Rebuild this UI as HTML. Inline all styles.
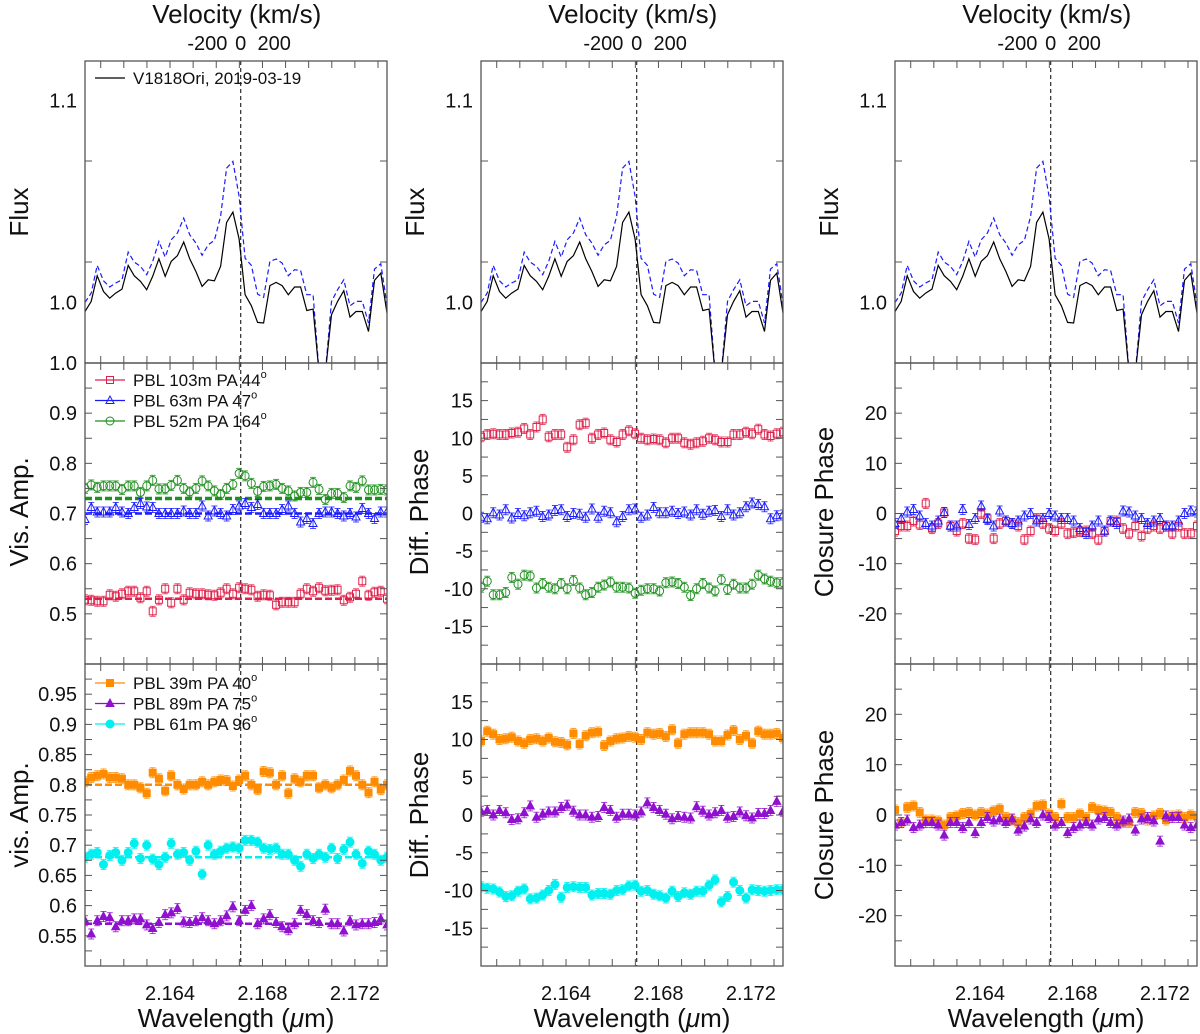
<!DOCTYPE html>
<html><head><meta charset="utf-8">
<style>
html,body{margin:0;padding:0;background:#fff;}
svg{display:block;font-family:"Liberation Sans",Arial,sans-serif;}
</style></head>
<body>
<svg id="fig" width="1200" height="1034" viewBox="0 0 1200 1034" xmlns="http://www.w3.org/2000/svg"></svg>
<script>
// ---- data ----
const wavelengths = [2.16032,2.16059,2.16085,2.16112,2.16139,2.16165,2.16192,2.16219,2.16245,2.16272,2.16299,2.16325,2.16352,2.16379,2.16405,2.16432,2.16459,2.16485,2.16512,2.16539,2.16565,2.16592,2.16619,2.16645,2.16672,2.16699,2.16725,2.16752,2.16779,2.16805,2.16832,2.16859,2.16885,2.16912,2.16939,2.16965,2.16992,2.17019,2.17045,2.17072,2.17099,2.17125,2.17152,2.17179,2.17205,2.17232,2.17259,2.17285,2.17312,2.17339];
const fluxObs = [0.9955,1.0005,1.0132,1.0054,1.0021,1.0046,1.0066,1.0183,1.0132,1.0104,1.0063,1.0129,1.0216,1.0129,1.0203,1.0231,1.0299,1.0216,1.0153,1.0079,1.0112,1.0107,1.0178,1.0396,1.0447,1.0314,1.0038,0.9983,0.9901,0.9898,1.0083,1.0099,1.0083,1.0038,1.0076,1.0076,0.9960,0.9967,0.965,0.965,0.9939,1.0005,1.0058,0.9927,0.9955,0.9955,0.9856,1.0109,1.0145,0.9947];
const fluxCorr = [1.0000,1.0046,1.0183,1.0107,1.0076,1.0096,1.0112,1.0249,1.0200,1.0178,1.0137,1.0203,1.0302,1.0224,1.0310,1.0343,1.0417,1.0335,1.0294,1.0233,1.0285,1.0307,1.0426,1.0665,1.0698,1.0525,1.0219,1.0183,1.0041,1.0025,1.0203,1.0215,1.0195,1.0132,1.0162,1.0158,1.0038,1.0038,0.965,0.965,1.0005,1.0063,1.0112,0.9983,1.0005,1.0005,0.9898,1.0165,1.0191,0.9988];
const visA_red = [0.528,0.527,0.525,0.525,0.538,0.535,0.54,0.545,0.545,0.532,0.545,0.505,0.528,0.55,0.522,0.55,0.528,0.542,0.54,0.54,0.538,0.537,0.542,0.55,0.54,0.552,0.55,0.548,0.535,0.538,0.537,0.518,0.523,0.523,0.523,0.54,0.55,0.545,0.552,0.546,0.547,0.548,0.527,0.533,0.54,0.565,0.537,0.543,0.545,0.53];
const visA_blue = [0.688,0.712,0.703,0.703,0.703,0.712,0.703,0.70,0.712,0.72,0.713,0.712,0.70,0.70,0.70,0.70,0.705,0.70,0.70,0.715,0.695,0.705,0.70,0.695,0.708,0.715,0.72,0.712,0.718,0.70,0.70,0.70,0.708,0.715,0.70,0.683,0.69,0.68,0.70,0.703,0.703,0.70,0.695,0.70,0.693,0.71,0.70,0.69,0.703,0.703];
const visA_green = [0.75,0.757,0.752,0.755,0.755,0.755,0.748,0.755,0.755,0.742,0.755,0.766,0.749,0.749,0.756,0.766,0.75,0.743,0.75,0.765,0.755,0.745,0.738,0.75,0.758,0.78,0.775,0.76,0.744,0.754,0.755,0.758,0.75,0.745,0.735,0.742,0.742,0.762,0.748,0.728,0.74,0.74,0.732,0.755,0.752,0.765,0.747,0.747,0.748,0.747];
const visB_orange = [0.805,0.812,0.815,0.818,0.812,0.812,0.81,0.80,0.80,0.795,0.786,0.82,0.81,0.79,0.815,0.80,0.793,0.80,0.80,0.805,0.80,0.805,0.808,0.807,0.798,0.808,0.815,0.80,0.792,0.822,0.82,0.80,0.815,0.786,0.81,0.805,0.815,0.815,0.795,0.80,0.795,0.80,0.808,0.823,0.815,0.80,0.787,0.805,0.792,0.80];
const visB_cyan = [0.68,0.685,0.688,0.668,0.683,0.688,0.675,0.688,0.703,0.678,0.70,0.677,0.668,0.68,0.703,0.685,0.688,0.675,0.69,0.652,0.70,0.685,0.69,0.695,0.697,0.695,0.708,0.708,0.705,0.695,0.693,0.695,0.685,0.685,0.675,0.665,0.685,0.678,0.685,0.68,0.695,0.678,0.693,0.705,0.685,0.67,0.69,0.685,0.675,0.68];
const visB_purple = [0.575,0.553,0.575,0.582,0.58,0.565,0.575,0.575,0.578,0.578,0.568,0.562,0.572,0.585,0.588,0.595,0.573,0.572,0.575,0.58,0.575,0.57,0.575,0.583,0.598,0.575,0.592,0.60,0.57,0.578,0.585,0.572,0.565,0.56,0.57,0.592,0.585,0.575,0.572,0.594,0.57,0.57,0.558,0.575,0.568,0.57,0.57,0.572,0.578,0.568];
const dpA_red = [10.2,10.5,10.6,10.5,10.5,10.7,10.8,11.3,10.5,11.5,12.5,10.2,10.5,10.5,8.8,9.8,11.8,12.0,10.0,10.5,10.7,9.8,9.5,10.5,11.0,10.6,10.0,9.8,9.9,9.8,9.4,10.0,10.0,9.4,9.2,9.4,9.6,10.0,9.8,9.5,9.5,10.5,10.5,10.8,10.6,11.2,10.5,10.3,10.6,10.8];
const dpA_blue = [-0.5,-0.7,0.1,-0.2,0.5,-0.6,0.0,-0.3,0.1,0.3,-0.4,-0.2,0.4,0.5,-0.4,0.0,-0.1,-0.5,0.6,-0.5,0.3,0.1,-1.1,-0.4,0.5,0.6,-0.5,-0.2,0.8,0.1,0.1,0.3,0.0,0.2,-0.2,0.5,-0.1,0.3,0.4,-0.4,0.5,-0.2,0.1,0.9,1.4,1.2,0.9,-0.7,-0.3,-0.2];
const dpA_green = [-9.8,-9.0,-10.8,-10.8,-10.5,-8.5,-9.4,-8.2,-8.3,-9.9,-9.3,-9.8,-10.0,-9.3,-10.0,-8.9,-9.9,-10.8,-10.5,-9.8,-9.5,-9.1,-9.8,-9.8,-9.9,-10.6,-10.2,-10.0,-10.0,-10.3,-9.2,-9.1,-9.3,-9.8,-10.9,-10.0,-9.3,-9.9,-10.3,-8.8,-10.1,-9.4,-9.9,-9.9,-9.4,-8.2,-8.7,-9.0,-9.2,-9.2];
const dpB_orange = [9.8,11.1,10.7,10.0,10.1,10.3,9.8,9.5,10.0,10.1,9.8,10.2,9.7,9.6,9.3,10.8,9.4,10.5,10.9,11.0,9.2,9.8,10.1,10.2,10.4,10.3,10.0,10.9,10.7,10.8,10.4,11.3,9.5,10.7,10.9,10.9,10.9,10.7,9.8,9.8,10.6,11.2,10.0,10.5,9.5,11.1,10.7,10.7,10.8,10.2];
const dpB_purple = [0.5,0.6,0.0,0.6,0.3,-0.6,-0.5,0.3,1.2,-0.3,0.1,0.4,0.4,1.0,1.3,0.5,0.0,0.0,-0.3,-0.2,1.0,0.6,-0.3,0.1,0.1,0.0,0.4,1.6,1.0,0.6,0.1,-0.5,-0.2,-0.3,-0.4,1.1,0.5,0.0,0.3,0.6,-0.3,-0.2,0.4,-0.1,-0.4,0.2,0.2,0.6,1.8,0.5];
const dpB_cyan = [-9.5,-9.7,-9.8,-10.2,-10.8,-10.7,-10.1,-9.8,-11.1,-11.0,-10.6,-10.0,-9.2,-10.9,-9.6,-9.5,-9.6,-9.6,-10.6,-10.4,-10.4,-10.5,-10.0,-9.9,-9.4,-9.3,-10.1,-10.0,-10.5,-10.7,-11.0,-10.1,-10.8,-10.3,-10.5,-10.1,-10.1,-9.3,-8.6,-11.5,-10.8,-8.9,-10.0,-11.0,-9.9,-10.0,-10.1,-10.0,-9.9,-9.9];
const cpA_red = [-3.5,-2.5,-2.5,-1.5,-2.2,2.0,-3.0,-2.0,0.2,-2.5,-3.5,-2.0,-5.0,-5.2,0.0,-1.0,-5.0,-2.0,-1.5,-2.0,-2.5,-5.2,-3.5,-1.0,-2.0,-3.0,-3.5,-2.0,-4.0,-3.8,-3.6,-3.5,-4.0,-5.2,-3.5,-1.5,-1.5,-3.0,-4.0,-2.5,-4.5,-3.0,-2.5,-3.0,-2.5,-4.0,-2.5,-4.0,-4.0,-2.5];
const cpA_blue = [-2.0,-1.0,0.3,0.8,-0.5,-2.0,-2.5,-1.5,0.2,-2.5,-2.5,0.8,-2.2,-1.0,1.5,-1.2,-2.5,0.5,-1.5,-2.0,-1.5,-0.5,0.0,-1.5,-1.0,0.0,-0.5,-1.0,-1.0,-1.5,-3.0,-4.0,-2.5,-1.5,-3.5,-1.5,-2.0,0.5,0.3,-0.5,-1.0,-2.0,-1.5,-1.0,-2.5,-2.5,-1.5,0.0,0.5,0.3];
const cpB_orange = [1.0,-1.5,1.5,1.8,0.5,-1.0,-1.0,-1.2,-2.0,-0.5,-0.2,0.3,0.5,0.0,0.5,0.2,0.8,1.2,-0.5,-1.0,-1.5,-0.5,0.2,1.8,2.0,0.2,-0.5,2.2,-0.5,-0.5,0.2,-0.5,1.5,1.0,0.8,0.5,-0.5,-1.5,-1.5,0.5,0.3,-1.0,-0.2,0.3,-1.0,-0.2,0.0,-0.5,0.0,-0.3];
const cpB_purple = [-2.0,-1.5,-1.0,-2.5,-2.0,-1.5,-1.5,-2.0,-4.0,-1.5,-1.5,-2.5,-1.5,-3.5,-1.5,-0.5,-1.2,-0.8,-1.5,-0.8,-3.0,-2.2,-0.8,-1.5,0.0,-0.5,-2.0,-1.5,-3.5,-2.5,-2.0,-1.5,-2.0,-0.8,-0.5,-1.5,-2.0,-1.2,-0.8,-3.0,-0.8,-0.5,-1.2,-5.2,-0.2,-0.5,-0.5,-2.0,-2.5,-2.0];
const visA_levels = [0.53,0.70,0.73];
const visB_levels = [0.80,0.68,0.57];
const xTickLabels = [2.164,2.168,2.172];
const velTicks = [-200,0,200];
const lineCenter = 2.16706;

// ---- helpers ----
const NS = "http://www.w3.org/2000/svg";
const svg = document.getElementById('fig');
function mk(tag, attrs, parent){const e=document.createElementNS(NS,tag);for(const k in attrs)e.setAttribute(k,attrs[k]);(parent||svg).appendChild(e);return e;}
const LMIN=2.16032, LMAX=2.17339, PW=302;
const cols=[85,481,895];
const rows=[[61,363],[363,664],[664,966]];
let clipId=0;

function makePanel(x0,y0,y1,ymin,ymax,minorStep,labels,fmt,name){
  const p={x0,y0,y1,ymin,ymax};
  p.xs=l=>x0+(l-LMIN)/(LMAX-LMIN)*PW;
  p.ys=v=>y1-(v-ymin)/(ymax-ymin)*(y1-y0);
  const g=mk('g',{});
  
  
  clipId++;
  const cp=mk('clipPath',{id:'c'+clipId},g);
  mk('rect',{x:x0,y:y0,width:PW,height:y1-y0},cp);
  p.g=g;
  p.dg=mk('g',{'clip-path':'url(#c'+clipId+')'},g);
  // dashed vertical
  const vl=mk('line',{x1:p.xs(lineCenter),x2:p.xs(lineCenter),y1:y0,y2:y1,stroke:'#000','stroke-width':1,'stroke-dasharray':'4,3'},p.dg);
  
  
  // frame
  const fr=mk('rect',{x:x0,y:y0,width:PW,height:y1-y0,fill:'none',stroke:'#555','stroke-width':1.3},g);
  
  
  // x ticks
  for(let l=2.161;l<2.1734;l+=0.001){
    const x=p.xs(l);
    mk('line',{x1:x,x2:x,y1:y1,y2:y1-7,stroke:'#555','stroke-width':1},g);
    mk('line',{x1:x,x2:x,y1:y0,y2:y0+7,stroke:'#555','stroke-width':1},g);
  }
  // y ticks
  const n=Math.round((ymax-ymin)/minorStep);
  for(let i=0;i<=n;i++){
    const v=ymin+i*minorStep;const y=p.ys(v);
    if(y<y0+1||y>y1-1)continue;
    mk('line',{x1:x0,x2:x0+7,y1:y,y2:y,stroke:'#555','stroke-width':1},g);
    mk('line',{x1:x0+PW,x2:x0+PW-7,y1:y,y2:y,stroke:'#555','stroke-width':1},g);
  }
  labels.forEach(v=>{
    const t=mk('text',{x:x0-8,y:p.ys(v)+7,'text-anchor':'end','font-size':20,fill:'#111'},g);
    t.textContent=fmt(v);
    
    
  });
  return p;
}
function ylabel(x,y,txt){
  const t=mk('text',{x:x,y:y,'text-anchor':'middle','font-size':26,fill:'#111',transform:`rotate(-90 ${x} ${y})`});
  t.textContent=txt;
  
  
}
function marker(parent,shape,cx,cy,color,filled){
  const f=filled?color:'none';let m;
  if(shape==='sq') m=mk('rect',{x:cx-3.5,y:cy-3.5,width:7,height:7,fill:f,stroke:color,'stroke-width':1},parent);
  else if(shape==='tri') m=mk('polygon',{points:`${cx},${cy-4.5} ${cx-4},${cy+3} ${cx+4},${cy+3}`,fill:f,stroke:color,'stroke-width':1},parent);
  else m=mk('circle',{cx:cx,cy:cy,r:4,fill:f,stroke:color,'stroke-width':1},parent);
  return m;
}
function scatter(p,vals,shape,color,filled,name){
  const g=mk('g',{},p.dg);
  
  
  vals.forEach((v,i)=>{
    const x=p.xs(wavelengths[i]),y=p.ys(v);
    mk('line',{x1:x,x2:x,y1:y-5,y2:y+5,stroke:color,'stroke-width':1,opacity:0.8},g);
    mk('line',{x1:x-3,x2:x+3,y1:y-5,y2:y-5,stroke:color,'stroke-width':1,opacity:0.8},g);
    mk('line',{x1:x-3,x2:x+3,y1:y+5,y2:y+5,stroke:color,'stroke-width':1,opacity:0.8},g);
    const m=marker(g,shape,x,y,color,filled);
    
    
  });
}
function hline(p,v,color,w){
  const l=mk('line',{x1:p.x0,x2:p.x0+PW,y1:p.ys(v),y2:p.ys(v),stroke:color,'stroke-width':w,'stroke-dasharray':'7,3'},p.dg);
  
  
}
function fluxLine(p,vals,color,dash,name){
  const pts=vals.map((v,i)=>p.xs(wavelengths[i]).toFixed(1)+','+p.ys(v).toFixed(1)).join(' ');
  const l=mk('polyline',{points:pts,fill:'none',stroke:color,'stroke-width':1.2},p.dg);
  if(dash)l.setAttribute('stroke-dasharray','5,3');
  
  
}
function legend(p,entries,y0){
  entries.forEach((e,i)=>{
    const y=y0+i*20.5;
    const g=mk('g',{},p.g);
    
    
    mk('line',{x1:p.x0+10,x2:p.x0+40,y1:y,y2:y,stroke:e.c,'stroke-width':1.2},g);
    if(e.s)marker(g,e.s,p.x0+25,y,e.c,e.f);
    const t=mk('text',{x:p.x0+48,y:y+6,'font-size':17,fill:'#111'},g);
    t.textContent=e.t;
    if(e.deg){const s=mk('tspan',{dy:-8,'font-size':11},t);s.textContent='o';}
  });
}

const RED='#e0204a',BLUE='#1a1aff',GREEN='#1f8f1f',ORANGE='#ff8c00',PURPLE='#9010d0',CYAN='#00f0f0';
const f1=v=>v.toFixed(1), f2=v=>(Math.round(v*100)/100).toString(), f0=v=>v.toFixed(0);

cols.forEach((cx,ci)=>{
  // top flux
  const pt=makePanel(cx,rows[0][0],rows[0][1],0.97,1.1195,0.05,[1.1,1.0],f1,'flux-panel');
  fluxLine(pt,fluxCorr,BLUE,true,'flux-corrected-line');
  fluxLine(pt,fluxObs,'#000',false,'flux-observed-line');
  if(ci===0)legend(pt,[{c:'#000',t:'V1818Ori, 2019-03-19'}],78);
  ylabel(cx-57+(ci===0?0:ci===1?0:0),212,'Flux');
  // velocity title
  const t=mk('text',{x:pt.xs(lineCenter)-4,y:23,'text-anchor':'middle','font-size':26,fill:'#111'});
  t.textContent='Velocity (km/s)';
  
  
  velTicks.forEach(v=>{
    const l=lineCenter*(1+v/299792);
    const tt=mk('text',{x:pt.xs(l),y:50,'text-anchor':'middle','font-size':20,fill:'#111'});
    tt.textContent=String(v);
    
    
  });
  // middle
  let pm,pb;
  if(ci===0){
    pm=makePanel(cx,rows[1][0],rows[1][1],0.4,1.0,0.05,[1.0,0.9,0.8,0.7,0.6,0.5],f1,'vis-amp-panel-a');
    hline(pm,visA_levels[0],RED,2.5);hline(pm,visA_levels[1],BLUE,2.5);hline(pm,visA_levels[2],GREEN,3.5);
    scatter(pm,visA_red,'sq',RED,false,'series-pbl103');
    scatter(pm,visA_blue,'tri',BLUE,false,'series-pbl63');
    scatter(pm,visA_green,'ci',GREEN,false,'series-pbl52');
    ylabel(28,512,'Vis. Amp.');
    pb=makePanel(cx,rows[2][0],rows[2][1],0.5,1.0,0.025,[0.95,0.9,0.85,0.8,0.75,0.7,0.65,0.6,0.55],f2,'vis-amp-panel-b');
    hline(pb,visB_levels[0],ORANGE,2.5);hline(pb,visB_levels[1],CYAN,2.5);hline(pb,visB_levels[2],PURPLE,2.5);
    scatter(pb,visB_orange,'sq',ORANGE,true,'series-pbl39');
    scatter(pb,visB_cyan,'ci',CYAN,true,'series-pbl61');
    scatter(pb,visB_purple,'tri',PURPLE,true,'series-pbl89');
    ylabel(28,815,'vis. Amp.');
  } else if(ci===1){
    pm=makePanel(cx,rows[1][0],rows[1][1],-20,20,2.5,[15,10,5,0,-5,-10,-15],f0,'diff-phase-panel-a');
    scatter(pm,dpA_red,'sq',RED,false,'series-pbl103');
    scatter(pm,dpA_blue,'tri',BLUE,false,'series-pbl63');
    scatter(pm,dpA_green,'ci',GREEN,false,'series-pbl52');
    ylabel(428,512,'Diff. Phase');
    pb=makePanel(cx,rows[2][0],rows[2][1],-20,20,2.5,[15,10,5,0,-5,-10,-15],f0,'diff-phase-panel-b');
    scatter(pb,dpB_orange,'sq',ORANGE,true,'series-pbl39');
    scatter(pb,dpB_purple,'tri',PURPLE,true,'series-pbl89');
    scatter(pb,dpB_cyan,'ci',CYAN,true,'series-pbl61');
    ylabel(428,815,'Diff. Phase');
  } else {
    pm=makePanel(cx,rows[1][0],rows[1][1],-30,30,5,[20,10,0,-10,-20],f0,'closure-phase-panel-a');
    scatter(pm,cpA_red,'sq',RED,false,'series-triangle-a1');
    scatter(pm,cpA_blue,'tri',BLUE,false,'series-triangle-a2');
    ylabel(833,512,'Closure Phase');
    pb=makePanel(cx,rows[2][0],rows[2][1],-30,30,5,[20,10,0,-10,-20],f0,'closure-phase-panel-b');
    scatter(pb,cpB_orange,'sq',ORANGE,true,'series-triangle-b1');
    scatter(pb,cpB_purple,'tri',PURPLE,true,'series-triangle-b2');
    ylabel(833,815,'Closure Phase');
  }
  if(ci===0){
    legend(pm,[{c:RED,s:'sq',f:false,t:'PBL 103m PA 44',deg:1},{c:BLUE,s:'tri',f:false,t:'PBL 63m PA 47',deg:1},{c:GREEN,s:'ci',f:false,t:'PBL 52m PA 164',deg:1}],380);
    legend(pb,[{c:ORANGE,s:'sq',f:true,t:'PBL 39m PA 40',deg:1},{c:PURPLE,s:'tri',f:true,t:'PBL 89m PA 75',deg:1},{c:CYAN,s:'ci',f:true,t:'PBL 61m PA 96',deg:1}],683);
  }
  xTickLabels.forEach(v=>{
    const tx=mk('text',{x:pb.xs(v),y:1000,'text-anchor':'middle','font-size':20,fill:'#111'});
    tx.textContent=v.toFixed(3);
    
    
  });
  const xt=mk('text',{x:cx+151,y:1027,'text-anchor':'middle','font-size':26,fill:'#111'});
  xt.textContent='Wavelength (';
  const mu=mk('tspan',{'font-style':'italic'},xt);mu.textContent='μ';
  const rest=mk('tspan',{},xt);rest.textContent='m)';
  
  
});
</script>
</body></html>
